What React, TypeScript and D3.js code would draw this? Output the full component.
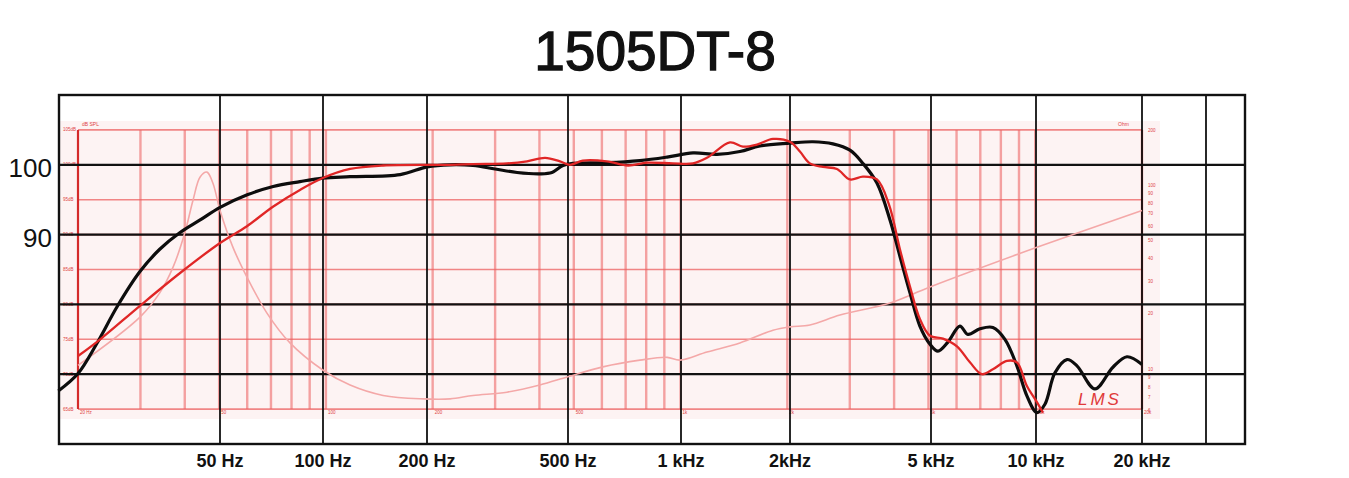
import React from "react";
import * as d3 from "d3";

// ---- data ----
const title = "1505DT-8";
const yTickValues = [90, 100];
const blackGridDb = [70, 80, 90, 100];
const redGridDb = [65, 70, 75, 80, 85, 90, 95, 100, 105];
const freqTickValues = [50, 100, 200, 500, 1000, 2000, 5000, 10000, 20000];
const freqTickLabels = ["50 Hz", "100 Hz", "200 Hz", "500 Hz", "1 kHz", "2kHz", "5 kHz", "10 kHz", "20 kHz"];
const extraBlackVerticals = [30000];
const redGridFreqs = [
  20, 30, 40, 50, 60, 70, 80, 90, 100, 200, 300, 400, 500, 600, 700, 800, 900,
  1000, 2000, 3000, 4000, 5000, 6000, 7000, 8000, 9000, 10000, 20000,
];
const redBottomLabelFreqs = [20, 50, 100, 200, 500, 1000, 2000, 5000, 10000, 20000];
const redBottomLabels = ["20 Hz", "50", "100", "200", "500", "1k", "2k", "5k", "10k", "20k"];
const impedanceLabels = [200, 100, 90, 80, 70, 60, 50, 40, 30, 20, 10, 9, 8, 7, 6];

// black response curve [Hz, dB]
const blackCurve: [number, number][] = [
  [17.6, 67.6], [20, 70.1], [22.6, 74.4], [25.8, 79.7], [29.9, 84.7], [34, 87.9],
  [38.8, 90.3], [44.2, 92.1], [50.3, 93.9], [60, 95.7], [71, 96.9], [84.5, 97.6],
  [98, 98.1], [117, 98.3], [162, 98.6], [193, 99.7], [224, 100], [260, 99.9],
  [300, 99.4], [346, 98.9], [401, 98.7], [434, 98.9], [466, 99.9], [497, 100.2],
  [620, 100.3], [768, 100.6], [916, 101.1], [1084, 101.7], [1266, 101.5],
  [1470, 101.9], [1674, 102.7], [2034, 103.1], [2362, 103.3], [2689, 103.0],
  [3003, 102.1], [3268, 100.2], [3578, 97.4], [3895, 92.1], [4154, 86.9],
  [4432, 81.7], [4729, 76.9], [5049, 74.3], [5317, 73.3], [5674, 74.6],
  [6131, 76.9], [6459, 75.7], [6983, 76.5], [7597, 76.7], [8214, 75.0],
  [8878, 71.2], [9474, 66.9], [10110, 64.5], [10650, 65.7], [11365, 70.2],
  [12286, 72.1], [13110, 71.2], [14735, 67.9], [16560, 71.0], [18140, 72.5],
  [20000, 71.4],
];

// red response curve [Hz, dB]
const redCurve: [number, number][] = [
  [20, 72.6], [23.1, 75], [29.9, 79.8], [38.8, 84.5], [50.3, 88.8], [59.9, 91.2],
  [70.9, 94.0], [84.5, 96.4], [98, 98.1], [117, 99.4], [145, 99.9], [224, 100],
  [260, 100.1], [324, 100.2], [369, 100.5], [415, 101.0], [457, 100.5],
  [488, 100.0], [530, 100.6], [620, 100.5], [711, 99.9], [804, 100.3],
  [952, 100.2], [1084, 100.2], [1187, 101.0], [1378, 103.2], [1499, 102.6],
  [1642, 102.9], [1822, 103.7], [2034, 103.3], [2170, 101.9], [2316, 100.2],
  [2520, 99.7], [2761, 99.4], [3003, 97.9], [3268, 98.3], [3578, 97.9],
  [3870, 94.3], [4154, 87.9], [4432, 82.6], [4729, 77.9], [5049, 75.5],
  [5492, 75.1], [6016, 74.0], [6545, 71.7], [7075, 70.0], [7597, 70.7],
  [8320, 71.9], [8878, 71.7], [9474, 68.3], [10110, 66.0], [10510, 64.5],
];

// impedance curve [Hz, ohm]
const impedanceCurve: [number, number][] = [
  [20, 10.5], [29.9, 19.2], [34, 26], [37.1, 36], [40, 55], [42.2, 83],
  [44.2, 111], [46.2, 118], [48, 103], [50.3, 73], [54.7, 46], [59.9, 31.7],
  [68.2, 20.2], [79.2, 13.9], [98, 9.9], [117, 8.2], [145, 7.2], [188, 6.9],
  [224, 6.9], [260, 7.2], [324, 7.5], [401, 8.2], [481, 9.1], [604, 10.3],
  [768, 11.2], [916, 11.6], [996, 11.2], [1187, 12.4], [1470, 13.9],
  [1822, 16.3], [2034, 17.0], [2316, 17.4], [2815, 19.7], [3895, 22.9],
  [5049, 28], [10110, 46], [20000, 73],
];

const W = 1349;
const H = 478;
const FONT = "'Liberation Sans', Arial, Helvetica, sans-serif";

export default function App() {
  // red (LMS) chart: pure log scale
  const xRed = d3.scaleLog().domain([20, 20000]).range([78, 1142]);
  // black overlay grid: hand-placed log scale
  const xBlk = d3
    .scaleLog()
    .domain([17.6, 50, 100, 200, 500, 1000, 2000, 5000, 10000, 20000, 30000, 40000])
    .range([59, 220, 323, 427, 568, 681, 790, 931, 1036, 1142, 1206, 1245]);
  const y = d3.scaleLinear().domain([60, 110]).range([444, 95]);
  const yZ = d3.scaleLog().domain([6, 200]).range([410, 130]);

  const lineDb = d3
    .line<[number, number]>()
    .x((d) => xRed(d[0]))
    .y((d) => y(d[1]))
    .curve(d3.curveCatmullRom.alpha(0.5));
  const lineZ = d3
    .line<[number, number]>()
    .x((d) => xRed(d[0]))
    .y((d) => yZ(d[1]))
    .curve(d3.curveCatmullRom.alpha(0.5));

  const bx0 = xBlk(17.6);
  const bx1 = xBlk(40000);
  const by0 = y(110);
  const by1 = y(60);
  const rx0 = xRed(20);
  const rx1 = xRed(20000);
  const ry0 = y(105);
  const ry1 = y(65);

  const gridRed = "rgba(236,96,96,0.75)";

  return (
    <svg
      width={W}
      height={H}
      style={{ position: "absolute", left: 0, top: 0, background: "#fff" }}
      fontFamily={FONT}
    >
      <rect x={0} y={0} width={W} height={H} fill="#fff" />
      <text x={655} y={70} textAnchor="middle" fontSize={55} fill="#111" stroke="#111" strokeWidth={1.3}>
        {title}
      </text>

      {/* LMS chart background */}
      <rect x={60} y={121} width={1100} height={298} fill="#fdf3f3" />
      {redGridDb.map((v) => (
        <line key={"rh" + v} x1={rx0} x2={rx1} y1={y(v)} y2={y(v)} stroke={gridRed} strokeWidth={1.6} />
      ))}
      {redGridFreqs.map((f) => (
        <line
          key={"rv" + f}
          x1={xRed(f)}
          x2={xRed(f)}
          y1={ry0}
          y2={ry1}
          stroke={f === 20 || f === 20000 ? "#d42a2a" : gridRed}
          strokeWidth={f === 20 || f === 20000 ? 2.2 : 2.4}
          opacity={f === 20 || f === 20000 ? 1 : 0.75}
        />
      ))}
      {redGridDb.map((v) => (
        <text key={"rl" + v} x={63} y={y(v) + 1.5} fontSize={4.5} fill="#d44">
          {v + "dB"}
        </text>
      ))}
      {impedanceLabels.map((z) => (
        <text key={"zl" + z} x={1148} y={yZ(z) + 1.5} fontSize={4.5} fill="#d44">
          {z}
        </text>
      ))}
      {redBottomLabelFreqs.map((f, i) => (
        <text key={"rb" + f} x={xRed(f) + 2} y={ry1 + 5} fontSize={4.5} fill="#d44">
          {redBottomLabels[i]}
        </text>
      ))}
      <text x={82} y={126} fontSize={5} fill="#d44">dB SPL</text>
      <text x={1118} y={126} fontSize={5} fill="#d44">Ohm</text>
      <text x={1078} y={405} fontSize={17} fontStyle="italic" fill="#e03a3a" letterSpacing={3} fontFamily={FONT}>
        LMS
      </text>

      {/* black overlay grid */}
      {blackGridDb.map((v) => (
        <line key={"bh" + v} x1={bx0} x2={bx1} y1={y(v)} y2={y(v)} stroke="#111" strokeWidth={2.2} />
      ))}
      {[...freqTickValues, ...extraBlackVerticals].map((f) => (
        <line key={"bv" + f} x1={xBlk(f)} x2={xBlk(f)} y1={by0} y2={by1} stroke="#111" strokeWidth={1.8} />
      ))}
      <rect x={bx0} y={by0} width={bx1 - bx0} height={by1 - by0} fill="none" stroke="#111" strokeWidth={2.4} />

      {/* curves */}
      <path d={lineZ(impedanceCurve) || ""} fill="none" stroke="#f4a8a8" strokeWidth={1.6} />
      <path d={lineDb(blackCurve) || ""} fill="none" stroke="#0d0d0d" strokeWidth={3.2} strokeLinejoin="round" />
      <path d={lineDb(redCurve) || ""} fill="none" stroke="#e02626" strokeWidth={2.3} strokeLinejoin="round" />

      {/* axis labels */}
      {yTickValues.map((v) => (
        <text key={"yl" + v} x={52} y={y(v) + 12} textAnchor="end" fontSize={26} fill="#111">
          {v}
        </text>
      ))}
      {freqTickValues.map((f, i) => (
        <text key={"xl" + f} x={xBlk(f)} y={467} textAnchor="middle" fontSize={18} fontWeight="bold" fill="#111">
          {freqTickLabels[i]}
        </text>
      ))}
    </svg>
  );
}
